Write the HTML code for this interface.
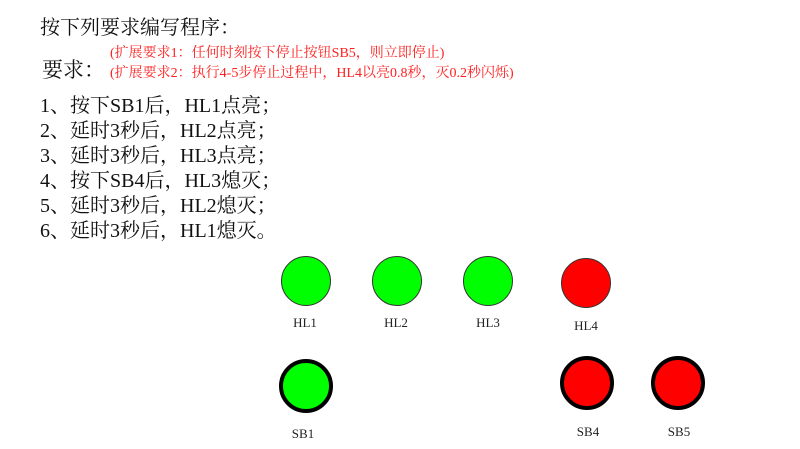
<!DOCTYPE html>
<html><head><meta charset="utf-8"><style>
body{margin:0;width:800px;height:449px;background:#fff;position:relative;overflow:hidden;font-family:"Liberation Serif","Noto Serif CJK SC",serif;}
.t{position:absolute;white-space:nowrap;line-height:1;color:#111;}
.r{color:#ff2020;font-size:14px;}
.l{font-size:20px;}
.lab{position:absolute;font-size:13px;color:#222;transform:translateX(-50%);line-height:1;}
.c{position:absolute;border-radius:50%;box-sizing:border-box;}
</style></head><body>
<div class="t" style="left:40px;top:18px;font-size:20px;">按下列要求编写程序：</div>
<div class="t" style="left:42px;top:60px;font-size:21px;">要求：</div>
<div class="t r" style="left:110px;top:47px;">(扩展要求1：任何时刻按下停止按钮SB5，则立即停止)</div>
<div class="t r" style="left:110px;top:67px;">(扩展要求2：执行4-5步停止过程中，HL4以亮0.8秒，灭0.2秒闪烁)</div>
<div class="t l" style="left:40px;top:96px;">1、按下SB1后，HL1点亮；</div>
<div class="t l" style="left:40px;top:121px;">2、延时3秒后，HL2点亮；</div>
<div class="t l" style="left:40px;top:146px;">3、延时3秒后，HL3点亮；</div>
<div class="t l" style="left:40px;top:171px;">4、按下SB4后，HL3熄灭；</div>
<div class="t l" style="left:40px;top:196px;">5、延时3秒后，HL2熄灭；</div>
<div class="t l" style="left:40px;top:221px;">6、延时3秒后，HL1熄灭。</div>

<div class="c" style="left:281px;top:256px;width:50px;height:50px;background:#00ff00;border:1px solid #333;"></div>
<div class="c" style="left:372px;top:256px;width:50px;height:50px;background:#00ff00;border:1px solid #333;"></div>
<div class="c" style="left:463px;top:256px;width:50px;height:50px;background:#00ff00;border:1px solid #333;"></div>
<div class="c" style="left:561px;top:258px;width:50px;height:50px;background:#ff0000;border:1px solid #333;"></div>
<div class="lab" style="left:305px;top:316px;">HL1</div>
<div class="lab" style="left:396px;top:316px;">HL2</div>
<div class="lab" style="left:488px;top:316px;">HL3</div>
<div class="lab" style="left:586px;top:319px;">HL4</div>

<div class="c" style="left:279px;top:359px;width:54px;height:54px;background:#00ff00;border:4px solid #000;"></div>
<div class="c" style="left:560px;top:356px;width:54px;height:54px;background:#ff0000;border:4px solid #000;"></div>
<div class="c" style="left:651px;top:356px;width:54px;height:54px;background:#ff0000;border:4px solid #000;"></div>
<div class="lab" style="left:303px;top:427px;">SB1</div>
<div class="lab" style="left:588px;top:425px;">SB4</div>
<div class="lab" style="left:679px;top:425px;">SB5</div>
</body></html>
